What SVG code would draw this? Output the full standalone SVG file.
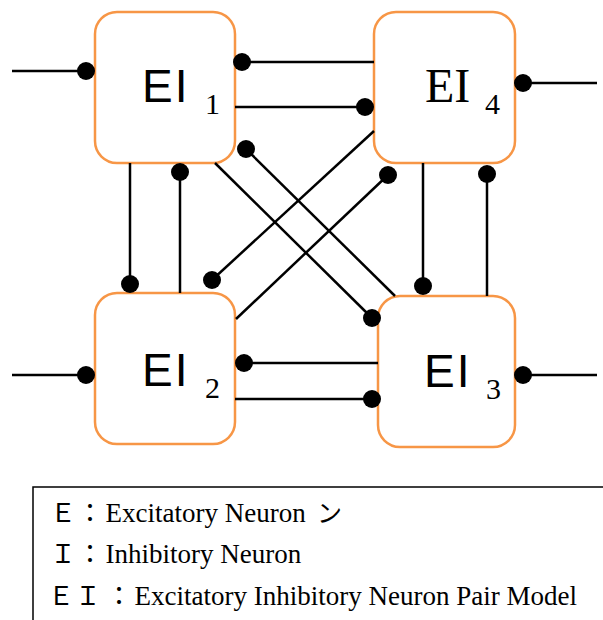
<svg xmlns="http://www.w3.org/2000/svg" width="603" height="620" viewBox="0 0 603 620">
<style>
.box{fill:#fff;stroke:#F79646;stroke-width:2.5}
.lbl{font-family:"Liberation Sans","DejaVu Sans",sans-serif;font-size:46px;fill:#000;letter-spacing:2px}
.lbls{font-family:"Liberation Serif","DejaVu Serif",serif;font-size:48px;fill:#000}
.sub{font-family:"Liberation Serif","DejaVu Serif",serif;font-size:30px;fill:#000}
.conn line{stroke:#000;stroke-width:2.5}
.conn circle{fill:#000}
.leg{font-family:"Liberation Serif","Noto Sans CJK JP",serif;font-size:27px;fill:#000}
.fw{font-family:"Noto Sans CJK JP","Liberation Serif",serif;font-size:26px}
.kn{font-family:"Noto Sans CJK JP",sans-serif;font-size:25px}
</style>
<g id="EI1"><rect class="box" x="95" y="12" width="140" height="151" rx="22"/><text class="lbl" x="142" y="102">EI</text><text class="sub" x="205" y="114">1</text></g>
<g id="EI4"><rect class="box" x="374" y="12" width="141" height="151" rx="22"/><text class="lbls" x="425" y="102">EI</text><text class="sub" x="485" y="114">4</text></g>
<g id="EI2"><rect class="box" x="95" y="293" width="140" height="151" rx="22"/><text class="lbl" x="142" y="386">EI</text><text class="sub" x="205" y="398">2</text></g>
<g id="EI3"><rect class="box" x="378" y="296" width="137" height="151" rx="22"/><text class="lbl" x="424" y="387">EI</text><text class="sub" x="486" y="399">3</text></g>
<g id="connectors" class="conn">
<line x1="12" y1="71" x2="86" y2="71"/><circle cx="86" cy="71" r="9"/>
<line x1="12" y1="375" x2="86" y2="375"/><circle cx="86" cy="375" r="9"/>
<line x1="242" y1="62" x2="374" y2="62"/><circle cx="242" cy="62" r="9"/>
<line x1="235" y1="107" x2="365" y2="107"/><circle cx="365" cy="107" r="9"/>
<line x1="246" y1="149" x2="395" y2="296"/><circle cx="246" cy="149" r="9"/>
<line x1="215" y1="163" x2="372" y2="318"/><circle cx="372" cy="318" r="9"/>
<line x1="212" y1="280" x2="374" y2="131"/><circle cx="212" cy="280" r="9"/>
<line x1="236" y1="319" x2="388" y2="175"/><circle cx="388" cy="175" r="9"/>
<line x1="130" y1="163" x2="130" y2="284"/><circle cx="130" cy="284" r="9"/>
<line x1="180" y1="172" x2="180" y2="293"/><circle cx="180" cy="172" r="9"/>
<line x1="423" y1="163" x2="423" y2="286"/><circle cx="423" cy="286" r="9"/>
<line x1="487" y1="174" x2="487" y2="296"/><circle cx="487" cy="174" r="9"/>
<line x1="244" y1="363" x2="378" y2="363"/><circle cx="244" cy="363" r="9"/>
<line x1="235" y1="399" x2="372" y2="399"/><circle cx="372" cy="399" r="9"/>
<line x1="523" y1="83" x2="597" y2="83"/><circle cx="523" cy="83" r="9"/>
<line x1="523" y1="375" x2="597" y2="375"/><circle cx="523" cy="375" r="9"/>
</g>
<g id="legend">
<rect x="33" y="487" width="620" height="200" fill="none" stroke="#000" stroke-width="1.5"/>
<text class="leg" y="522"><tspan class="fw" x="50">Ｅ</tspan><tspan class="fw" x="77">：</tspan><tspan x="105.5">Excitatory Neuron </tspan><tspan class="kn" x="317">ン</tspan></text>
<text class="leg" y="563"><tspan class="fw" x="50">Ｉ</tspan><tspan class="fw" x="77">：</tspan><tspan x="105.5">Inhibitory Neuron</tspan></text>
<text class="leg" y="605"><tspan class="fw" x="48">Ｅ</tspan><tspan class="fw" x="75">Ｉ</tspan><tspan class="fw" x="106">：</tspan><tspan x="134.5">Excitatory Inhibitory Neuron Pair Model</tspan></text>
</g>
</svg>
